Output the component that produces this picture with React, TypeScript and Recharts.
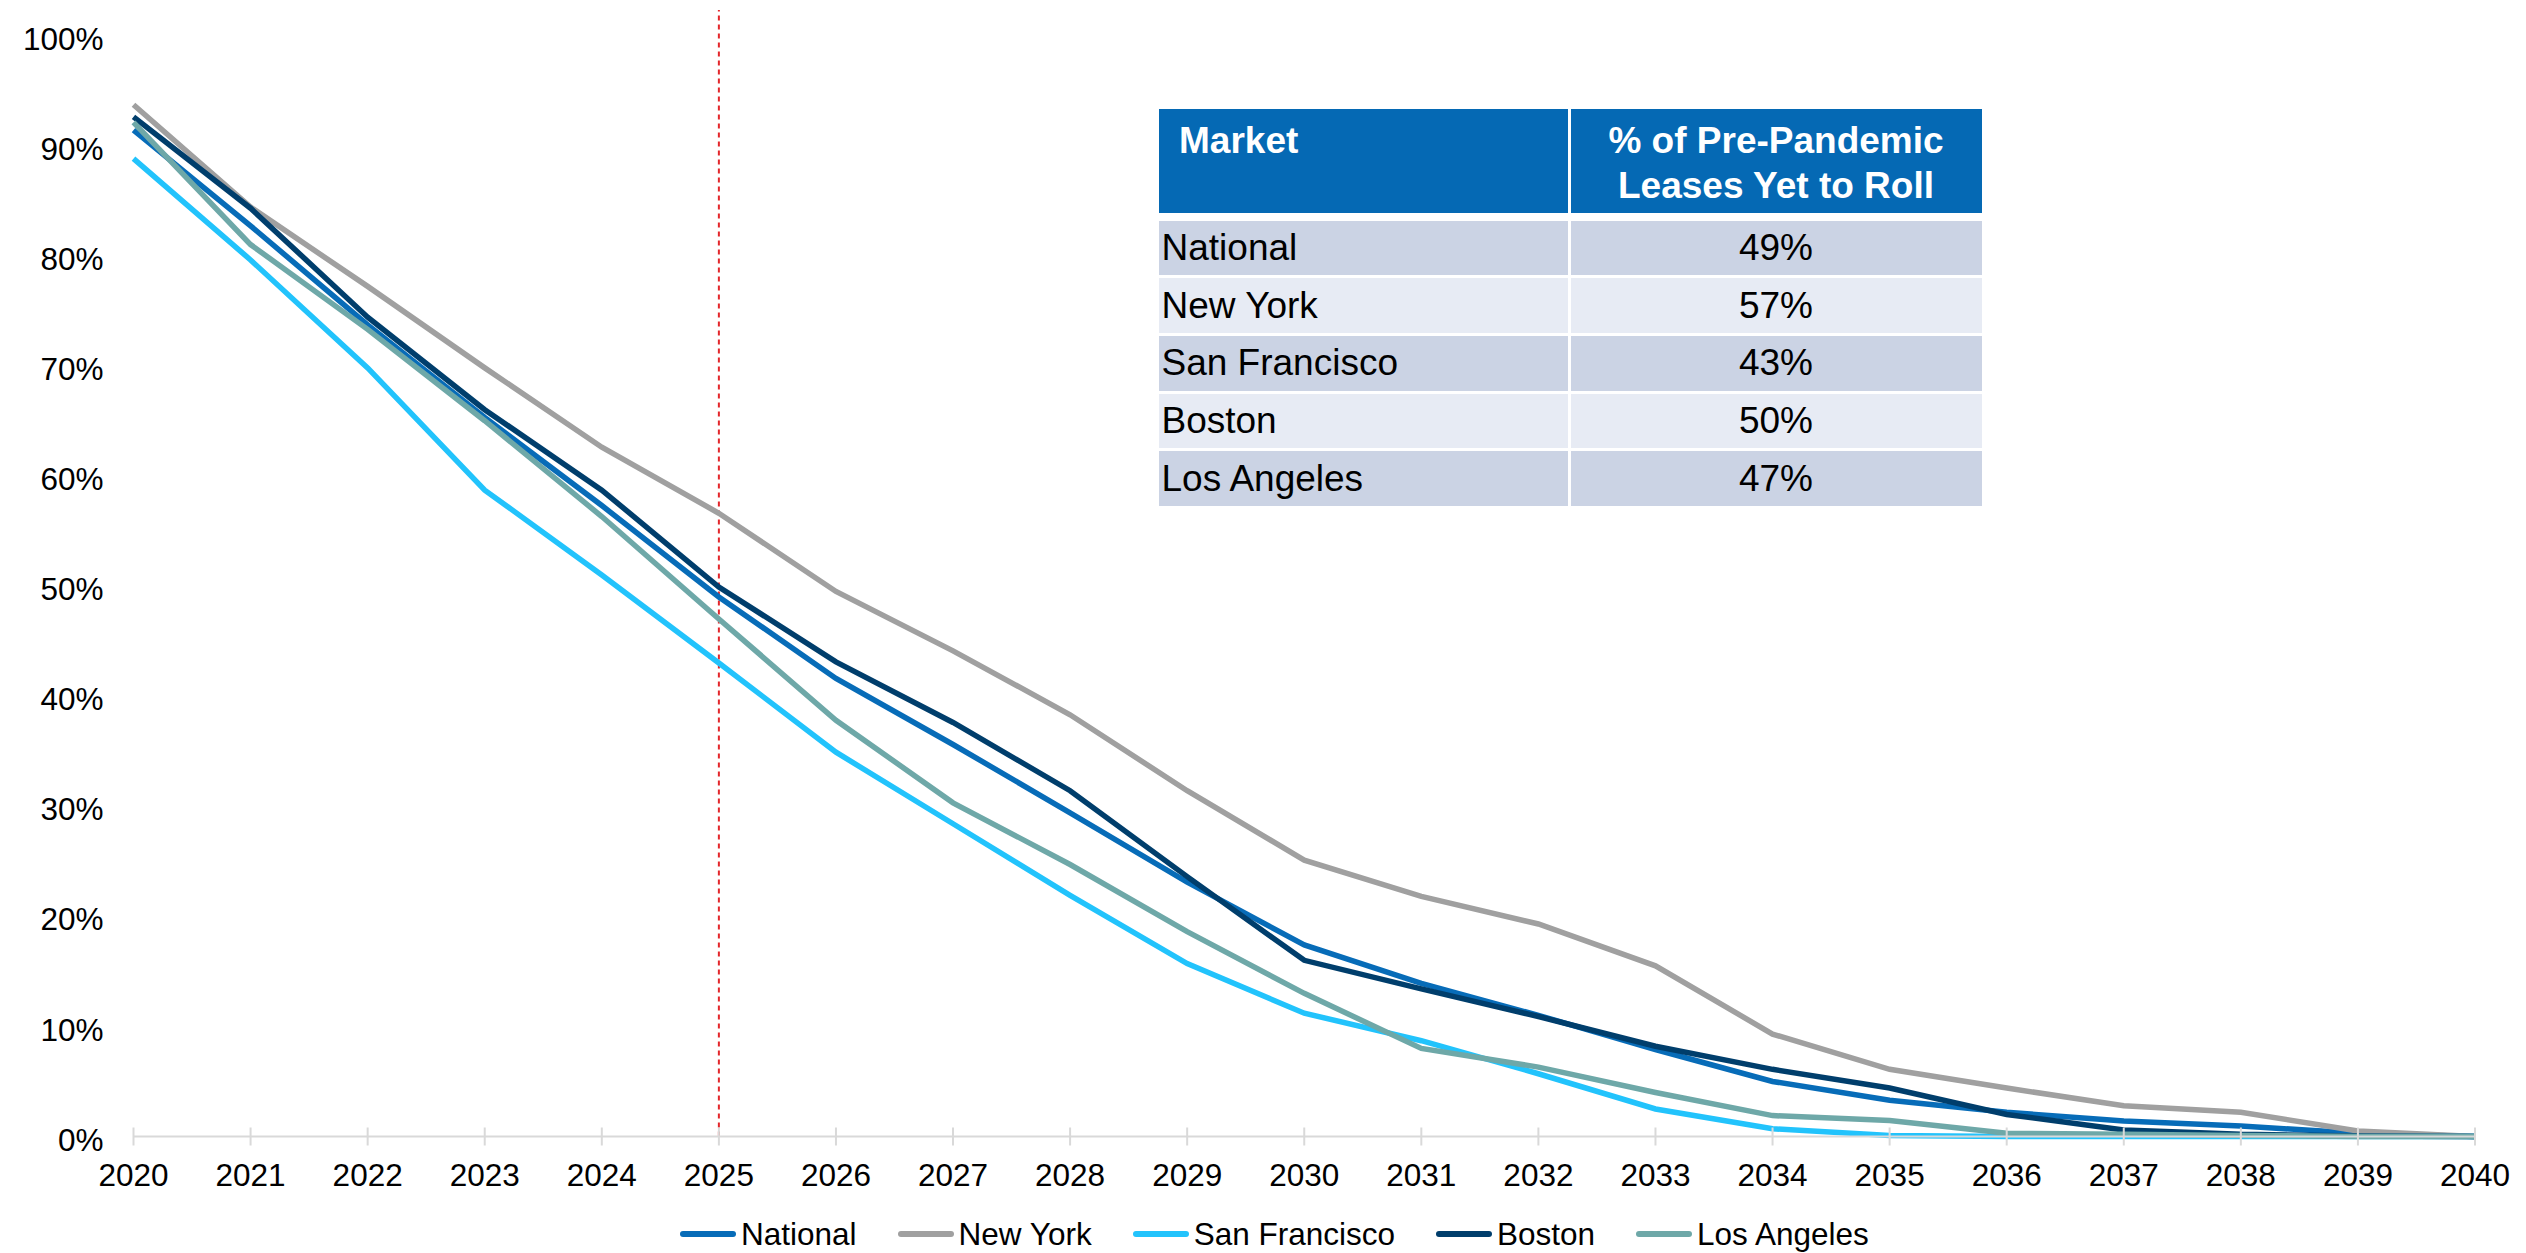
import { LineChart, Line, XAxis, YAxis, ReferenceLine } from "recharts";

const FONT = '"Liberation Sans", Arial, sans-serif';

const years = [2020, 2021, 2022, 2023, 2024, 2025, 2026, 2027, 2028, 2029, 2030, 2031, 2032, 2033, 2034, 2035, 2036, 2037, 2038, 2039, 2040];

const national = [0.914, 0.827, 0.737, 0.653, 0.573, 0.49, 0.416, 0.356, 0.294, 0.231, 0.174, 0.139, 0.11, 0.079, 0.05, 0.033, 0.022, 0.014, 0.0095, 0.003, 0];
const newYork = [0.937, 0.844, 0.772, 0.698, 0.626, 0.566, 0.495, 0.441, 0.383, 0.314, 0.251, 0.218, 0.193, 0.155, 0.093, 0.061, 0.044, 0.028, 0.022, 0.005, 0];
const sanFrancisco = [0.888, 0.796, 0.698, 0.587, 0.51, 0.43, 0.349, 0.284, 0.219, 0.157, 0.112, 0.087, 0.057, 0.025, 0.007, 0.001, 0, 0, 0, 0, 0];
const boston = [0.926, 0.843, 0.744, 0.66, 0.587, 0.499, 0.431, 0.376, 0.314, 0.236, 0.16, 0.134, 0.109, 0.082, 0.061, 0.044, 0.02, 0.006, 0.002, 0.0005, 0];
const losAngeles = [0.921, 0.81, 0.733, 0.65, 0.563, 0.47, 0.378, 0.303, 0.247, 0.186, 0.13, 0.08, 0.063, 0.04, 0.019, 0.0145, 0.003, 0.002, 0.001, 0, 0];

const seriesKeys = ["national", "newYork", "sanFrancisco", "boston", "losAngeles"];
const seriesNames = ["National", "New York", "San Francisco", "Boston", "Los Angeles"];
const seriesColors = ["#076CB8", "#A0A0A0", "#22C3FC", "#003E6C", "#6EA8A8"];

const yTicks = [0, 0.1, 0.2, 0.3, 0.4, 0.5, 0.6, 0.7, 0.8, 0.9, 1];

const tableMarkets = ["National", "New York", "San Francisco", "Boston", "Los Angeles"];
const tableShares = ["49%", "57%", "43%", "50%", "47%"];

const data = years.map((year, i) => ({
  year,
  national: national[i],
  newYork: newYork[i],
  sanFrancisco: sanFrancisco[i],
  boston: boston[i],
  losAngeles: losAngeles[i],
}));

function YearTick({ x, y, payload }: any) {
  return (
    <g>
      <line x1={x} x2={x} y1={y - 9} y2={y + 9} stroke="#D9D9D9" strokeWidth={2} />
      <text x={x} y={y + 49} textAnchor="middle" fontSize={31.5} fill="#000" fontFamily={FONT}>
        {payload.value}
      </text>
    </g>
  );
}

function LeaseTable() {
  const cell = { display: "flex", alignItems: "center", height: 54.5, fontSize: 37, color: "#000" };
  return (
    <div
      style={{
        position: "absolute",
        left: 1159,
        top: 109.3,
        display: "grid",
        gridTemplateColumns: "409px 411px",
        columnGap: 2.5,
        fontFamily: FONT,
      }}
    >
      <div style={{ background: "#0569B4", color: "#fff", fontWeight: "bold", fontSize: 37, lineHeight: "45px", height: 103.4, boxSizing: "border-box", padding: "9px 0 0 20px" }}>
        Market
      </div>
      <div style={{ background: "#0569B4", color: "#fff", fontWeight: "bold", fontSize: 37, lineHeight: "45px", height: 103.4, boxSizing: "border-box", paddingTop: 9, textAlign: "center" }}>
        % of Pre-Pandemic
        <br />
        Leases Yet to Roll
      </div>
      {tableMarkets.map((m, i) => {
        const bg = i % 2 === 0 ? "#CBD3E4" : "#E7EBF4";
        const mt = i === 0 ? 8 : 3.2;
        return [
          <div key={m + "a"} style={{ ...cell, background: bg, marginTop: mt, paddingLeft: 2.5 }}>{m}</div>,
          <div key={m + "b"} style={{ ...cell, background: bg, marginTop: mt, justifyContent: "center" }}>{tableShares[i]}</div>,
        ];
      })}
    </div>
  );
}

function ChartLegend() {
  return (
    <div style={{ position: "absolute", left: 680, top: 1214, height: 40, display: "flex", alignItems: "center", fontFamily: FONT }}>
      {seriesNames.map((name, i) => (
        <div key={name} style={{ display: "flex", alignItems: "center", marginRight: 41 }}>
          <span style={{ display: "inline-block", width: 56, height: 6, borderRadius: 3, background: seriesColors[i], marginRight: 5 }} />
          <span style={{ fontSize: 31.5, lineHeight: "40px", color: "#000" }}>{name}</span>
        </div>
      ))}
    </div>
  );
}

export default function App() {
  return (
    <div style={{ position: "absolute", left: 0, top: 0, width: 2526, height: 1253, background: "#fff" }}>
      <LineChart width={2526} height={1253} data={data} margin={{ top: 10, right: 51, bottom: 86.5, left: 0 }}>
        <XAxis
          dataKey="year"
          type="number"
          domain={[2020, 2040]}
          ticks={years}
          interval={0}
          tickSize={0}
          tickMargin={0}
          tickLine={false}
          axisLine={{ stroke: "#D9D9D9", strokeWidth: 2 }}
          tick={<YearTick />}
          height={30}
        />
        <YAxis
          type="number"
          domain={[0, 1.023]}
          ticks={yTicks}
          width={133.5}
          axisLine={false}
          tickLine={false}
          tickSize={0}
          tickMargin={30}
          tickFormatter={(v: number) => `${Math.round(v * 100)}%`}
          tick={{ fill: "#000", fontSize: 31.5, fontFamily: FONT, dy: 3 }}
        />
        <ReferenceLine x={2025} stroke="#E3262B" strokeWidth={2} strokeDasharray="5 4" />
        {seriesKeys.map((key, i) => (
          <Line
            key={key}
            type="linear"
            dataKey={key}
            name={seriesNames[i]}
            stroke={seriesColors[i]}
            strokeWidth={5.5}
            dot={false}
            activeDot={false}
            isAnimationActive={false}
          />
        ))}
      </LineChart>
      <LeaseTable />
      <ChartLegend />
    </div>
  );
}
